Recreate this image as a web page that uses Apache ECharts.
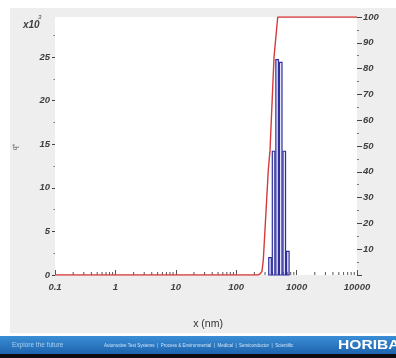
<!DOCTYPE html>
<html>
<head>
<meta charset="utf-8">
<style>
  html, body { margin: 0; padding: 0; background: #fff; }
  #chart { width: 396px; height: 358px; }
</style>
<script src="https://cdn.jsdelivr.net/npm/echarts@6/dist/echarts.min.js"></script>
</head>
<body>
<div id="chart"></div>
<script>
// Frequency histogram: size-class edges (nm) and q* values (x10^3)
var binLow  = [339.3, 388.6, 445.1, 509.8, 583.9, 668.7];
var binHigh = [388.6, 445.1, 509.8, 583.9, 668.7, 765.9];
var freq    = [2.0, 14.2, 24.7, 24.4, 14.2, 2.7];

// Cumulative undersize curve (%)
var cumSize = [0.1, 228, 248, 267, 281, 340, 363, 423, 487, 10000];
var cumPct  = [0, 0, 0.4, 1.4, 5.8, 40.7, 48.4, 84.5, 100, 100];

// Axis ticks
var leftTicks  = [0, 5, 10, 15, 20, 25];
var decades    = [0.1, 1, 10, 100, 1000];
var minorSteps = [2, 3, 4, 5, 6, 7, 8, 9];
var xLabels    = ['0.1', '1', '10', '100', '1000', '10000'];

var FONT = "'Liberation Sans Narrow', 'Liberation Sans', Arial, sans-serif";
var labelStyle = { color: '#404040', fontStyle: 'italic', fontWeight: 'bold', fontFamily: FONT, fontSize: 9.5 };

var minorTickValues = [];
decades.forEach(function (d) {
  minorSteps.forEach(function (m) { minorTickValues.push([+(d * m).toPrecision(6)]); });
});

var histData = binLow.map(function (lo, i) { return [lo, binHigh[i], freq[i]]; });
var cumData = cumSize.map(function (s, i) { return [s, cumPct[i]]; });

var chart = echarts.init(document.getElementById('chart'), null, { renderer: 'canvas' });

chart.setOption({
  backgroundColor: '#ffffff',
  animation: false,
  graphic: [
    { type: 'rect', z: -5, shape: { x: 10, y: 8, width: 386, height: 325 }, style: { fill: '#eeeeee' } },
    { type: 'rect', z: 5, shape: { x: 0, y: 336, width: 396, height: 18 },
      style: { fill: new echarts.graphic.LinearGradient(0, 0, 0, 1, [
        { offset: 0, color: '#3a8ed6' }, { offset: 1, color: '#1d64ad' }]) } },
    { type: 'rect', z: 5, shape: { x: 0, y: 354, width: 396, height: 4 }, style: { fill: '#0b0b10' } },
    { type: 'text', z: 6, x: 12, y: 345, style: { text: 'Explore the future', fill: '#a9d0f2',
      font: '6.5px "Liberation Sans", Arial, sans-serif', textVerticalAlign: 'middle' } },
    { type: 'text', z: 6, x: 104, y: 345.5, style: {
      text: 'Automotive Test Systems  |  Process & Environmental  |  Medical  |  Semiconductor  |  Scientific',
      fill: '#cfe4f7', font: '4.5px "Liberation Sans", Arial, sans-serif', textVerticalAlign: 'middle' } },
    { type: 'text', z: 6, x: 338, y: 345.5, scaleX: 1.3, style: { text: 'HORIBA', fill: '#ffffff',
      font: 'bold 12px "Liberation Sans", Arial, sans-serif', textVerticalAlign: 'middle' } },
    { type: 'text', z: 6, x: 23, y: 25, style: { text: 'x10', fill: '#404040',
      font: 'italic bold 10px ' + FONT, textVerticalAlign: 'middle' } },
    { type: 'text', z: 6, x: 38, y: 17, style: { text: '3', fill: '#404040',
      font: 'italic 6px ' + FONT, textVerticalAlign: 'middle' } },
    { type: 'text', z: 6, x: 15, y: 147, rotation: Math.PI / 2, style: { text: 'q*', fill: '#666',
      font: '7px ' + FONT, textAlign: 'center', textVerticalAlign: 'middle' } },
    { type: 'text', z: 6, x: 208, y: 324, style: { text: 'x (nm)', fill: '#333',
      font: '10.5px "Liberation Sans", Arial, sans-serif', textAlign: 'center', textVerticalAlign: 'middle' } }
  ],
  grid: { left: 55, right: 39, top: 17, bottom: 83, show: true, backgroundColor: '#ffffff', borderWidth: 0 },
  xAxis: {
    type: 'log', logBase: 10, min: 0.1, max: 10000,
    axisLine: { show: false },
    axisTick: { show: true, inside: true, length: 5, lineStyle: { color: '#555', width: 1 } },
    splitLine: { show: false },
    minorTick: { show: false },
    axisLabel: Object.assign({ margin: 7, formatter: function (v) {
      var i = Math.round(Math.log10(v)) + 1; return xLabels[i] !== undefined ? xLabels[i] : '';
    } }, labelStyle)
  },
  yAxis: [
    {
      type: 'value', min: 0, max: 29.6, position: 'left',
      axisLine: { show: false },
      axisTick: { show: true, length: 3, customValues: leftTicks, lineStyle: { color: '#444' } },
      axisLabel: Object.assign({ margin: 5, customValues: leftTicks }, labelStyle),
      minorTick: { show: true, splitNumber: 2, length: 1.5, lineStyle: { color: '#777' } },
      splitLine: { show: false }
    },
    {
      type: 'value', min: 0, max: 100, interval: 10, position: 'right',
      axisLine: { show: false },
      axisTick: { show: true, length: 5, lineStyle: { color: '#444' } },
      axisLabel: Object.assign({ margin: 6, showMinLabel: false, formatter: function (v) { return '' + v; } }, labelStyle),
      minorTick: { show: true, splitNumber: 2, length: 2, lineStyle: { color: '#777' } },
      splitLine: { show: false }
    }
  ],
  series: [
    {
      // minor log ticks along the bottom of the plot
      type: 'custom', xAxisIndex: 0, yAxisIndex: 0, silent: true, z: 3,
      data: minorTickValues,
      encode: { x: 0 },
      renderItem: function (params, api) {
        var p = api.coord([api.value(0), 0]);
        return { type: 'line', shape: { x1: p[0], y1: p[1], x2: p[0], y2: p[1] - 3 },
          style: { stroke: '#555', lineWidth: 1 } };
      }
    },
    {
      // histogram bars spanning each size class
      type: 'custom', xAxisIndex: 0, yAxisIndex: 0, z: 4,
      data: histData,
      encode: { x: [0, 1], y: 2 },
      renderItem: function (params, api) {
        var a = api.coord([api.value(0), 0]);
        var b = api.coord([api.value(1), api.value(2)]);
        var inset = 0.5;
        return { type: 'rect',
          shape: { x: a[0] + inset, y: b[1], width: b[0] - a[0] - 2 * inset, height: a[1] - b[1] },
          style: { fill: 'rgba(170,170,235,0.25)', stroke: '#2f2f9e', lineWidth: 1.2 } };
      }
    },
    {
      type: 'line', xAxisIndex: 0, yAxisIndex: 1, z: 5,
      data: cumData, showSymbol: false, symbol: 'none',
      lineStyle: { color: '#d6393b', width: 1.4 }
    }
  ]
});
</script>
</body>
</html>
